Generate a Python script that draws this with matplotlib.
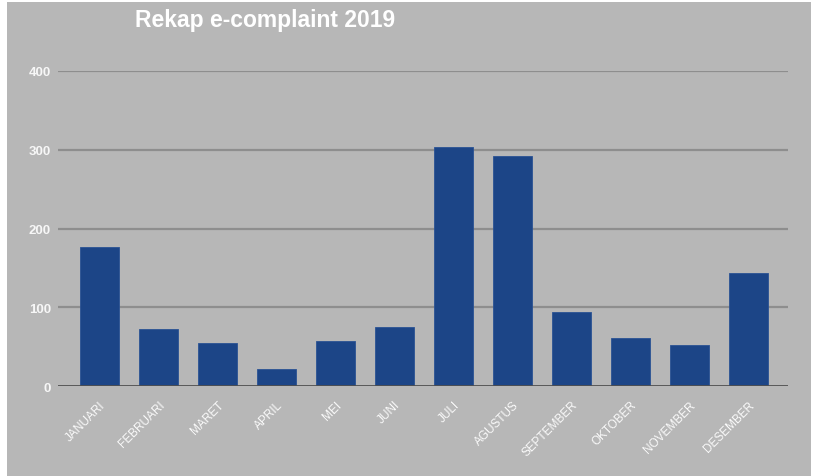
import matplotlib.pyplot as plt
from matplotlib.patches import Rectangle

bulan = ["JANUARI", "FEBRUARI", "MARET", "APRIL", "MEI", "JUNI", "JULI",
         "AGUSTUS", "SEPTEMBER", "OKTOBER", "NOVEMBER", "DESEMBER"]
jumlah = [177, 73, 55, 22, 57, 75, 303, 292, 94, 61, 52, 144]
yticks = [0, 100, 200, 300, 400]

plt.rcParams['font.family'] = ['Liberation Sans', 'DejaVu Sans']

fig = plt.figure(figsize=(8.14, 4.77), dpi=100, facecolor='white')
# chart area (gray) inside the spreadsheet screenshot
fig.patches.append(Rectangle((7/814, 0), 804/814, 474/477, transform=fig.transFigure,
                             facecolor='#b7b7b7', edgecolor='none', zorder=-10))

ax = fig.add_axes([58/814, 1-387/477, 730/814, 315/477])
ax.set_facecolor('none')
x = range(len(bulan))
ax.bar(x, jumlah, width=0.66, color='#1c4587', edgecolor='#2a5294', linewidth=0.6, zorder=3)

ax.set_ylim(0, 400)
ax.set_xlim(-0.70, 11.67)
ax.set_yticks(yticks)
ax.set_yticklabels([str(v) for v in yticks], color='#f7f7f7', fontsize=9.5, fontweight='bold')
ax.set_xticks(list(x))
ax.set_xticklabels(bulan, rotation=45, ha='right', rotation_mode='anchor',
                   color='#fafafa', fontsize=8.5)
ax.tick_params(axis='y', length=0, pad=5)
ax.tick_params(axis='x', length=0, pad=9)
for v in yticks[1:]:
    ax.axhline(v, color='#8e8e8e', linewidth=1.6, zorder=1)
ax.axhline(0, color='#505050', linewidth=2, zorder=4)
for s in ax.spines.values():
    s.set_visible(False)

fig.text(135/814, 1-21/477, "Rekap e-complaint 2019", color='white', fontsize=16.5,
         fontweight='bold', ha='left', va='center')

fig.savefig("out.png", dpi=100, facecolor='white')
